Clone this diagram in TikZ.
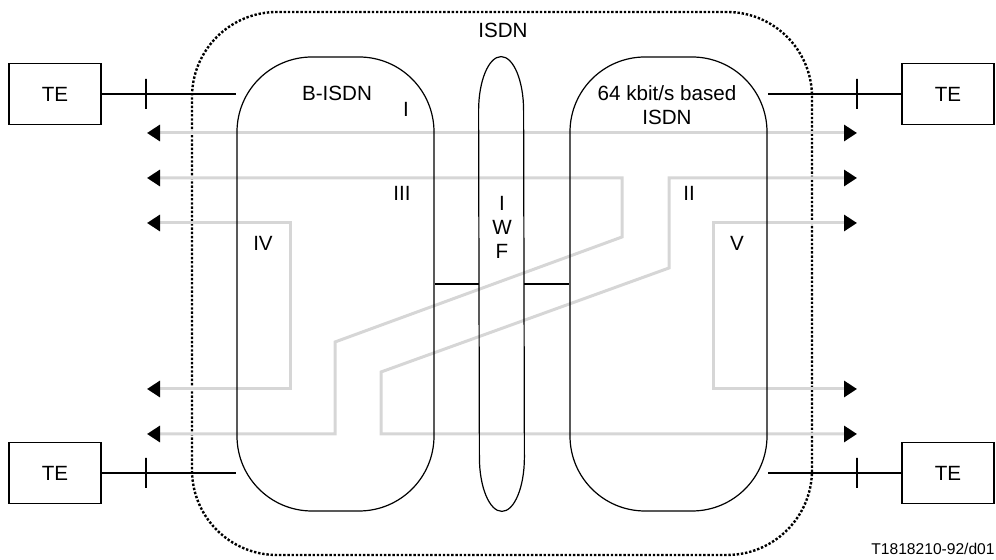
\documentclass[tikz,border=0pt]{standalone}
\usepackage{fontspec}
\setmainfont{Liberation Sans}
\usetikzlibrary{arrows.meta, positioning}
\definecolor{routegray}{RGB}{214,214,214}
\tikzset{
	every node/.style={
		font=\fontsize{10.3}{12}\selectfont
	},
	te/.style={
		shape=rectangle,
		draw,
		line width=0.6pt,
		minimum width=46pt,
		minimum height=30.5pt,
		inner sep=0pt
	},
	network/.style={
		shape=rectangle,
		draw,
		line width=0.6pt,
		minimum width=98.5pt,
		minimum height=227pt,
		rounded corners=37.5pt
	},
	isdn area/.style={
		shape=rectangle,
		draw,
		dash pattern=on 1.2pt off 0.9pt,
		line width=1.2pt,
		minimum width=310pt,
		minimum height=271.5pt,
		rounded corners=42.5pt
	},
	tmark/.style={
		shape=rectangle,
		draw,
		line width=1pt,
		inner sep=0pt,
		minimum width=0pt,
		minimum height=15pt
	},
	link/.style={line width=1pt},
	route/.style={
		draw=routegray,
		line width=1.5pt,
		{Triangle[length=6.5pt,width=8pt,color=black]}-{Triangle[length=6.5pt,width=8pt,color=black]}
	}
}

\begin{document}
\begin{tikzpicture}[x=0.5pt, y=0.5pt]
	\useasboundingbox (0,0) rectangle (996,560);
	
	% ISDN boundary
	\node[isdn area] (isdn) at (502,276.5) {};
	\node (isdnlabel) at (503,530) {ISDN};
	
	% ends of the connection types
	\foreach \n/\y in {1/427, 2/382, 3/337, 4/171, 5/126} {
		\coordinate (L\n) at (147,\y);
		\coordinate (R\n) at (857,\y);
	}
	\draw[route] (L1) -- (R1); % I
	\draw[route] (L2) -| (622,323) -- (335,218) |- (L5); % III
	\draw[route] (R2) -| (669,292) -- (381,188) |- (R5); % II
	\draw[route] (L3) -| (290,171) -- (L4); % IV
	\draw[route] (R3) -| (713,171) -- (R4); % V
	
	% networks
	\node[network] (bisdn) at (335.5,276) {};
	\node[network] (kbit) at (668.5,276) {};
	\node (iwf) at (501.5,276) [minimum width=22.5pt, minimum height=227pt, inner sep=0pt] {};
	\draw[line width=0.6pt] ([yshift=-27pt]iwf.north west)
		arc[start angle=180, end angle=0, x radius=11.25pt, y radius=27pt]
		-- ([yshift=27pt]iwf.south east)
		arc[start angle=0, end angle=-180, x radius=11.25pt, y radius=27pt] -- cycle;
	\draw[link] (bisdn.east) -- (iwf.west);
	\draw[link] (iwf.east) -- (kbit.west);
	
	% terminals
	\node[te] (te1) at (55,466) {TE};
	\node[te] (te2) at (55,87) {TE};
	\node[te] (te3) at (948,466) {TE};
	\node[te] (te4) at (948,87) {TE};
	\draw[link] (te1.east) -- node[tmark, pos=0.33] {} (te1.east -| bisdn.west);
	\draw[link] (te2.east) -- node[tmark, pos=0.33] {} (te2.east -| bisdn.west);
	\draw[link] (te3.west) -- node[tmark, pos=0.33] {} (te3.west -| kbit.east);
	\draw[link] (te4.west) -- node[tmark, pos=0.33] {} (te4.west -| kbit.east);
	
	% labels
	\node (bisdnlabel) at (337,467) {B-ISDN};
	\node (kbitlabel) at (667,455) [align=center] {64 kbit/s based\\ISDN};
	\node (iwflabel) at (502,333) [align=center] {I\\W\\F};
	\node (typeI) at (406,451) {I};
	\node (typeIII) at (402,367) {III};
	\node (typeIV) at (263,317) {IV};
	\node (typeII) at (689,367) {II};
	\node (typeV) at (737,317) {V};
	\node (fig) at (995,11) [anchor=east, inner sep=0pt, font=\fontsize{7.8}{9}\selectfont] {T1818210-92/d01};
\end{tikzpicture}
\end{document}
